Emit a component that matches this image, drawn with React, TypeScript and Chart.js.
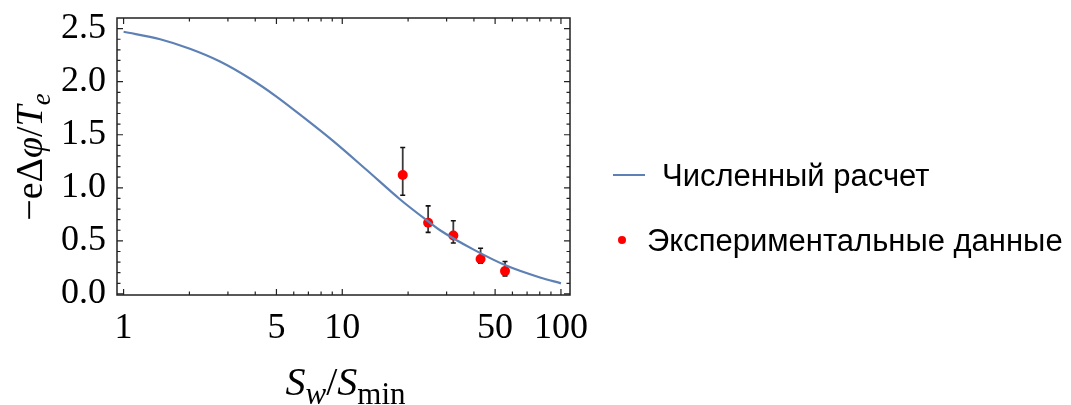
import React, { useEffect, useRef } from 'react';
import { Chart, registerables } from 'chart.js';
Chart.register(...registerables);

// Numerical calculation curve
const curveX = [1, 1.47, 2.01, 2.76, 3.78, 5.0, 6.5, 9.1, 12.9, 18.4, 25.2, 28.0, 39.7, 56.5, 80.2, 100];
const curveY = [2.47, 2.4, 2.31, 2.19, 2.03, 1.86, 1.68, 1.44, 1.17, 0.89, 0.67, 0.6, 0.42, 0.265, 0.155, 0.1];

// Experimental data with error bars
const expX = [18.9, 24.7, 32.2, 42.9, 55.5];
const expY = [1.12, 0.67, 0.55, 0.33, 0.215];
const expHigh = [1.38, 0.83, 0.69, 0.43, 0.305];
const expLow = [0.93, 0.58, 0.48, 0.29, 0.17];

const xMajorTicks = [1, 5, 10, 50, 100];
const xMinorTicks = [2, 3, 4, 6, 7, 8, 9, 20, 30, 40, 60, 70, 80, 90];
const yMajorTicks = [0, 0.5, 1.0, 1.5, 2.0, 2.5];
const yMinorTicks = [0.1, 0.2, 0.3, 0.4, 0.6, 0.7, 0.8, 0.9, 1.1, 1.2, 1.3, 1.4, 1.6, 1.7, 1.8, 1.9, 2.1, 2.2, 2.3, 2.4];

const legendLabels = ['Численный расчет', 'Экспериментальные данные'];

const LINE_COLOR = '#5E81B5';
const POINT_COLOR = '#FF0000';
const FRAME_COLOR = '#222222';
const SERIF = '"Liberation Serif", "Times New Roman", serif';
const SANS = '"Liberation Sans", Arial, sans-serif';

type Seg = { t: string; italic?: boolean; sub?: boolean };

function drawRich(ctx: CanvasRenderingContext2D, segs: Seg[], cx: number, baseline: number, size: number, subScale: number) {
  const fonts = segs.map(s => `${s.italic ? 'italic ' : ''}${s.sub ? Math.round(size * subScale) : size}px ${SERIF}`);
  let total = 0;
  const widths = segs.map((s, i) => {
    ctx.font = fonts[i];
    const w = ctx.measureText(s.t).width;
    total += w;
    return w;
  });
  let x = cx - total / 2;
  ctx.textAlign = 'left';
  ctx.textBaseline = 'alphabetic';
  segs.forEach((s, i) => {
    ctx.font = fonts[i];
    ctx.fillText(s.t, x, baseline + (s.sub ? size * 0.22 : 0));
    x += widths[i];
  });
}

const xTitle: Seg[] = [
  { t: 'S', italic: true },
  { t: 'w', italic: true, sub: true },
  { t: '/' },
  { t: 'S', italic: true },
  { t: 'min', sub: true },
];
const yTitle: Seg[] = [
  { t: '−e' },
  { t: 'Δ' },
  { t: 'φ', italic: true },
  { t: '/' },
  { t: 'T', italic: true },
  { t: 'e', italic: true, sub: true },
];

const decorPlugin = {
  id: 'decor',
  beforeDatasetsDraw(chart: any) {
    const ctx: CanvasRenderingContext2D = chart.ctx;
    const xs = chart.scales.x;
    const ys = chart.scales.y;
    ctx.save();
    expX.forEach((xv, i) => {
      const px = xs.getPixelForValue(xv);
      const top = ys.getPixelForValue(expHigh[i]);
      const bot = ys.getPixelForValue(expLow[i]);
      ctx.strokeStyle = '#3a3a3a';
      ctx.lineWidth = 1.8;
      ctx.beginPath();
      ctx.moveTo(px, top);
      ctx.lineTo(px, bot);
      ctx.stroke();
      ctx.strokeStyle = '#111111';
      ctx.lineWidth = 1.6;
      ctx.beginPath();
      ctx.moveTo(px - 2.5, top);
      ctx.lineTo(px + 2.5, top);
      ctx.moveTo(px - 2.5, bot);
      ctx.lineTo(px + 2.5, bot);
      ctx.stroke();
    });
    ctx.restore();
  },
  afterDraw(chart: any) {
    const ctx: CanvasRenderingContext2D = chart.ctx;
    const { left, right, top, bottom } = chart.chartArea;
    const xs = chart.scales.x;
    const ys = chart.scales.y;
    ctx.save();
    // frame
    ctx.strokeStyle = FRAME_COLOR;
    ctx.lineWidth = 1.5;
    ctx.strokeRect(left, top, right - left, bottom - top);
    // ticks
    const MAJ = 6, MIN = 3.5;
    ctx.lineWidth = 1.2;
    ctx.beginPath();
    const xt = (v: number, len: number) => {
      const p = xs.getPixelForValue(v);
      ctx.moveTo(p, bottom); ctx.lineTo(p, bottom - len);
      ctx.moveTo(p, top); ctx.lineTo(p, top + len);
    };
    const yt = (v: number, len: number) => {
      const p = ys.getPixelForValue(v);
      ctx.moveTo(left, p); ctx.lineTo(left + len, p);
      ctx.moveTo(right, p); ctx.lineTo(right - len, p);
    };
    xMajorTicks.forEach(v => xt(v, MAJ));
    xMinorTicks.forEach(v => xt(v, MIN));
    yMajorTicks.forEach(v => yt(v, MAJ));
    yMinorTicks.forEach(v => yt(v, MIN));
    ctx.stroke();

    // axis titles
    ctx.fillStyle = '#000000';
    drawRich(ctx, xTitle, (left + right) / 2 + 2, 395, 40, 0.78);
    ctx.save();
    ctx.translate(42, 157);
    ctx.rotate(-Math.PI / 2);
    drawRich(ctx, yTitle, 0, 0, 38, 0.7);
    ctx.restore();

    // legend
    const lx = right + 43;
    ctx.strokeStyle = LINE_COLOR;
    ctx.lineWidth = 2;
    ctx.beginPath();
    ctx.moveTo(lx, 175);
    ctx.lineTo(lx + 32, 175);
    ctx.stroke();
    ctx.fillStyle = POINT_COLOR;
    ctx.beginPath();
    ctx.arc(lx + 9, 240, 4, 0, Math.PI * 2);
    ctx.fill();
    ctx.fillStyle = '#000000';
    ctx.font = `31px ${SANS}`;
    ctx.textAlign = 'left';
    ctx.textBaseline = 'alphabetic';
    ctx.fillText(legendLabels[0], lx + 49, 186);
    ctx.fillText(legendLabels[1], lx + 34, 251);
    ctx.restore();
  },
};

export default function App() {
  const ref = useRef<HTMLCanvasElement | null>(null);
  useEffect(() => {
    if (!ref.current) return;
    const chart = new Chart(ref.current, {
      type: 'scatter',
      data: {
        datasets: [
          {
            type: 'line',
            label: legendLabels[0],
            data: curveX.map((x, i) => ({ x, y: curveY[i] })),
            borderColor: LINE_COLOR,
            borderWidth: 2.2,
            pointRadius: 0,
            cubicInterpolationMode: 'monotone',
            fill: false,
          } as any,
          {
            type: 'scatter',
            label: legendLabels[1],
            data: expX.map((x, i) => ({ x, y: expY[i] })),
            backgroundColor: POINT_COLOR,
            borderColor: POINT_COLOR,
            pointRadius: 5,
            borderWidth: 0,
          },
        ],
      },
      options: {
        animation: false,
        responsive: false,
        maintainAspectRatio: false,
        layout: { padding: { left: 0, top: 18, right: 501, bottom: 0 } },
        plugins: { legend: { display: false }, tooltip: { enabled: false } },
        scales: {
          x: {
            type: 'logarithmic',
            min: 0.933,
            max: 110,
            afterBuildTicks: (s: any) => { s.ticks = xMajorTicks.map(v => ({ value: v })); },
            afterFit: (s: any) => { s.height = 110; s.paddingLeft = 0; s.paddingRight = 0; },
            ticks: {
              autoSkip: false,
              maxRotation: 0,
              padding: 4,
              color: '#000000',
              font: { family: SERIF, size: 36 },
              callback: (v: any) => String(v),
            },
            grid: { display: false },
            border: { display: false },
          },
          y: {
            type: 'linear',
            min: -0.01,
            max: 2.6,
            afterBuildTicks: (s: any) => { s.ticks = yMajorTicks.map(v => ({ value: v })); },
            afterFit: (s: any) => { s.width = 117; s.paddingTop = 0; s.paddingBottom = 0; },
            ticks: {
              padding: 3,
              color: '#000000',
              font: { family: SERIF, size: 36 },
              callback: (v: any) => Number(v).toFixed(1),
            },
            grid: { display: false },
            border: { display: false },
          },
        },
      },
      plugins: [decorPlugin],
    });
    return () => chart.destroy();
  }, []);
  return (
    <div style={{ position: 'absolute', left: 0, top: 0, width: 1071, height: 405, background: '#ffffff' }}>
      <canvas ref={ref} width={1071} height={405} style={{ display: 'block', width: 1071, height: 405 }} />
    </div>
  );
}
